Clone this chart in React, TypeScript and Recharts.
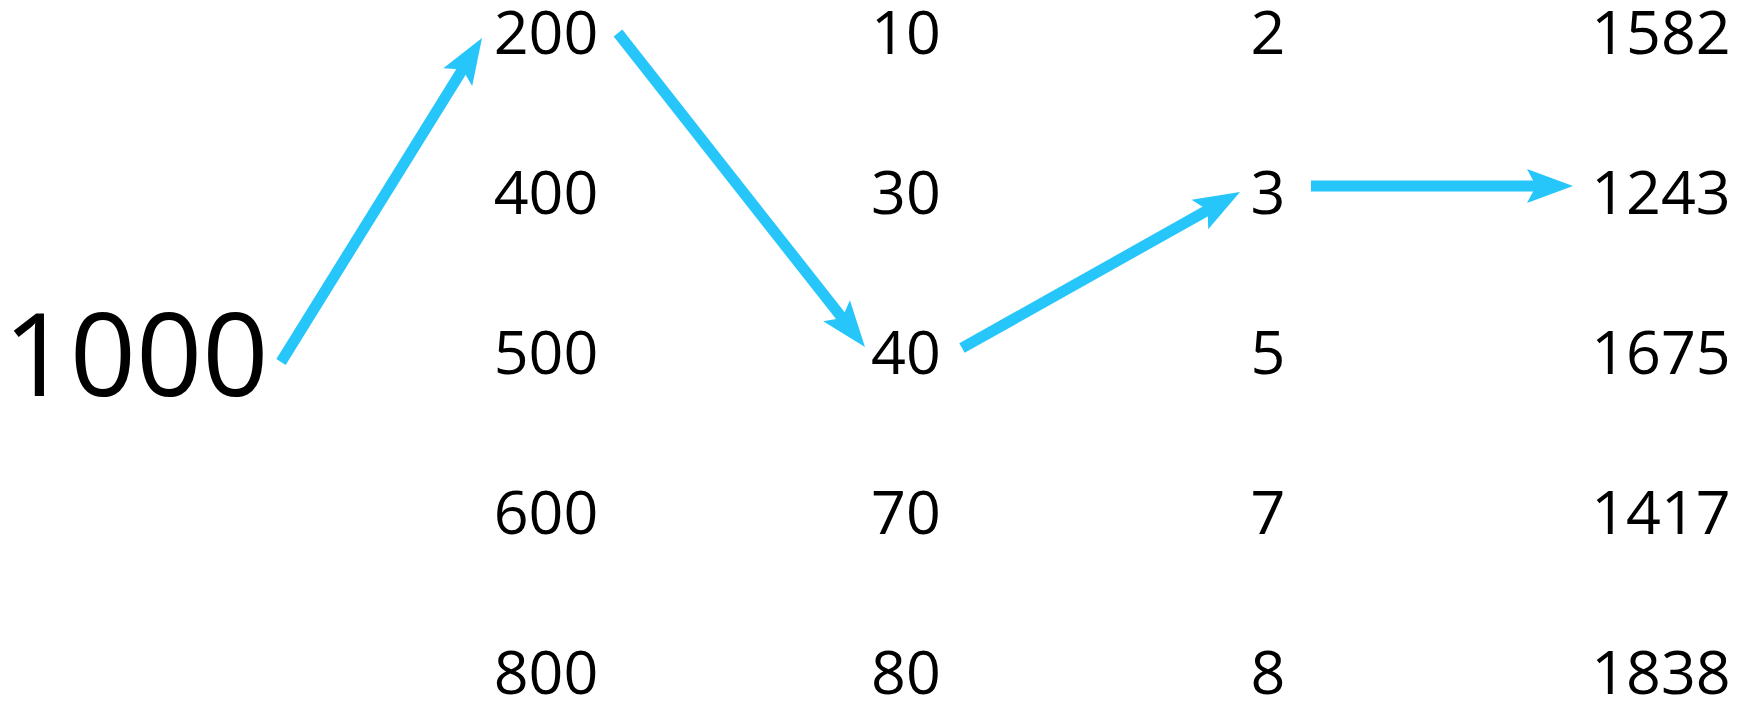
import React from "react";
import { ScatterChart, Scatter, XAxis, YAxis } from "recharts";

// values shown in the diagram, left to right
const startValue = ["1000"];
const col1 = ["200", "400", "500", "600", "800"];
const col2 = ["10", "30", "40", "70", "80"];
const col3 = ["2", "3", "5", "7", "8"];
const col4 = ["1582", "1243", "1675", "1417", "1838"];

// where each column / row sits on the (hidden) axes
const startX = 136;
const startY = 355;
const columnX = [546, 906, 1268, 1661];
const rowY = [32, 192, 352, 512, 672];

// arrow endpoints (tail -> tip) in axis units
const arrowTails = [
  [281, 362],
  [618, 33],
  [962, 348],
  [1311, 186],
];
const arrowTips = [
  [482, 38],
  [865, 347],
  [1240, 192],
  [1573, 186],
];

const W = 1738;
const H = 703;
const BLUE = "#26C6FB";
const FONT = "'Open Sans', 'Noto Sans', sans-serif";

const columns = [col1, col2, col3, col4];

const labelData = [
  { x: startX, y: startY, label: startValue[0], big: true },
  ...columns.flatMap((col, ci) =>
    col.map((label, ri) => ({ x: columnX[ci], y: rowY[ri], label, big: false }))
  ),
];

const arrowData = arrowTails.map((t, i) => [
  { x: t[0], y: t[1] },
  { x: arrowTips[i][0], y: arrowTips[i][1] },
]);

const LabelShape = (props: any) => {
  const { cx, cy, payload } = props;
  const size = payload.big ? 116 : 61;
  return (
    <text
      x={cx}
      y={cy + size * 0.357}
      textAnchor="middle"
      fontFamily={FONT}
      fontSize={size}
      fill="#000"
    >
      {payload.label}
    </text>
  );
};

const HEAD_LEN = 46;
const HEAD_HALF = 17;
const NOTCH = 9;

const renderArrow = (props: any) => {
  const pts = props.points;
  if (!pts || pts.length < 2) return null;
  const [a, b] = pts;
  const dx = b.x - a.x;
  const dy = b.y - a.y;
  const len = Math.sqrt(dx * dx + dy * dy);
  const ux = dx / len;
  const uy = dy / len;
  const px = -uy;
  const py = ux;
  const backX = b.x - ux * HEAD_LEN;
  const backY = b.y - uy * HEAD_LEN;
  const notchX = b.x - ux * (HEAD_LEN - NOTCH);
  const notchY = b.y - uy * (HEAD_LEN - NOTCH);
  const shaftEnd = HEAD_LEN - NOTCH - 1;
  const head = [
    `${b.x},${b.y}`,
    `${backX + px * HEAD_HALF},${backY + py * HEAD_HALF}`,
    `${notchX},${notchY}`,
    `${backX - px * HEAD_HALF},${backY - py * HEAD_HALF}`,
  ].join(" ");
  return (
    <g>
      <line
        x1={a.x}
        y1={a.y}
        x2={b.x - ux * shaftEnd}
        y2={b.y - uy * shaftEnd}
        stroke={BLUE}
        strokeWidth={11}
      />
      <polygon points={head} fill={BLUE} />
    </g>
  );
};

export default function App() {
  return (
    <div style={{ position: "absolute", top: 0, left: 0, background: "#fff" }}>
      <ScatterChart width={W} height={H} margin={{ top: 0, right: 0, bottom: 0, left: 0 }}>
        <XAxis type="number" dataKey="x" domain={[0, W]} hide />
        <YAxis type="number" dataKey="y" domain={[0, H]} reversed hide />
        {arrowData.map((d, i) => (
          <Scatter
            key={`arrow-${i}`}
            data={d}
            line={renderArrow}
            lineType="joint"
            shape={() => <g />}
            isAnimationActive={false}
          />
        ))}
        <Scatter data={labelData} shape={LabelShape} isAnimationActive={false} />
      </ScatterChart>
    </div>
  );
}
